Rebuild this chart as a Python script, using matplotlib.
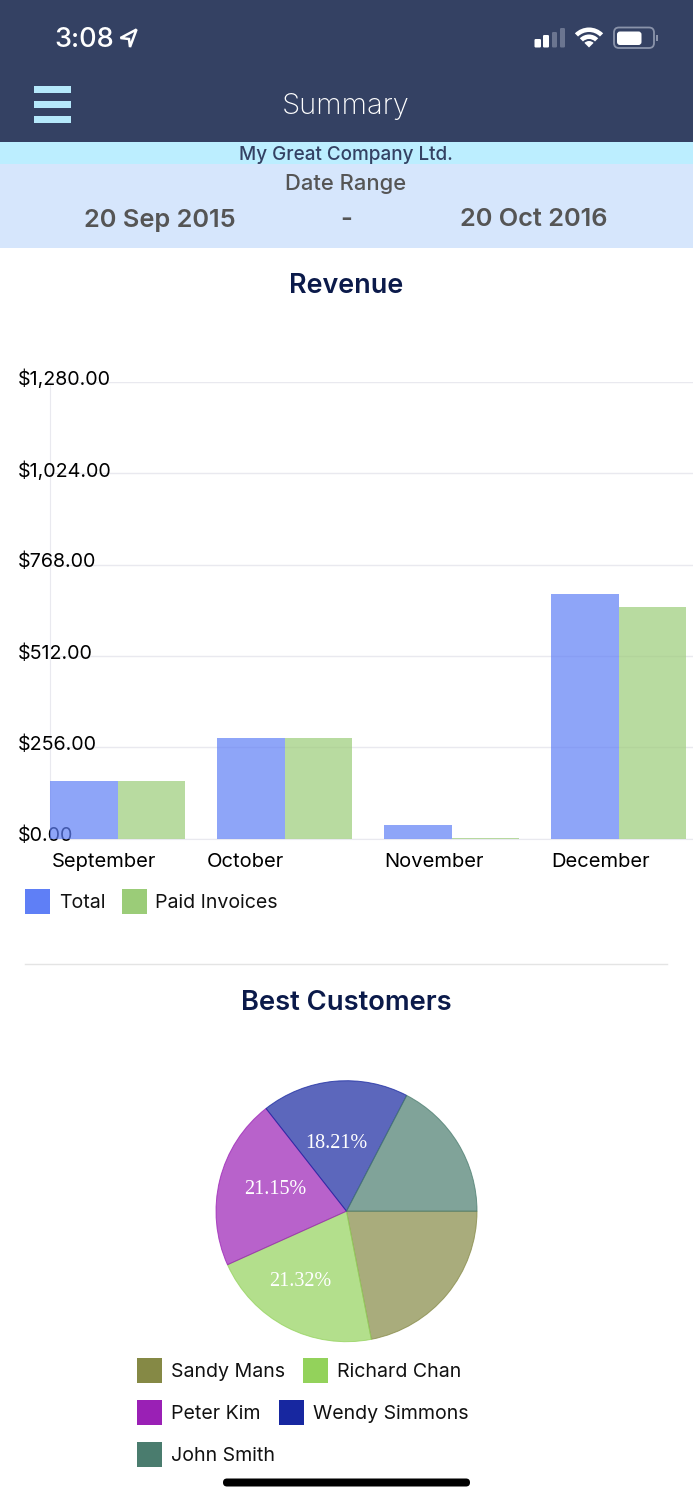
import matplotlib
matplotlib.use("Agg")
import matplotlib.pyplot as plt
from matplotlib.patches import Rectangle, FancyBboxPatch, Polygon, Wedge
from matplotlib.transforms import ScaledTranslation
from matplotlib.colors import to_rgba

plt.rcParams["font.family"] = ["Inter", "DejaVu Sans"]

W, H = 693, 1500

months = ["September", "October", "November", "December"]
total = [160, 282, 38, 686]
paid = [160, 282, 2, 649]
yticks = [0, 256, 512, 768, 1024, 1280]
ylabels = ["$0.00", "$256.00", "$512.00", "$768.00", "$1,024.00", "$1,280.00"]

customers = ["Sandy Mans", "Richard Chan", "Peter Kim", "Wendy Simmons", "John Smith"]
shares = [21.95, 21.32, 21.15, 18.21, 17.37]
pie_colors = ["#858945", "#93D25B", "#9A20B5", "#1727A0", "#4A7C6E"]
pie_labels = ["", "21.32%", "21.15%", "18.21%", ""]

BLUE = "#5F7FF6"
GREEN = "#9BCC78"
GRID = "#E9E9EF"
NAVY = "#344163"
DARK = "#0B1A4A"
GREY = "#555555"


def px_axes(x0, y0, x1, y1):
    # axes from pixel box, y counted from the top
    return fig.add_axes([x0 / W, 1 - y1 / H, (x1 - x0) / W, (y1 - y0) / H])


def shift(dx, dy):
    return ScaledTranslation(dx / 100, -dy / 100, fig.dpi_scale_trans)


fig = plt.figure(figsize=(W / 100, H / 100), dpi=100)

# bars
ax = px_axes(50, 382, 693, 838.5)
xs = list(range(len(months)))
bw = 67.5 / 167
ax.bar([x - bw / 2 for x in xs], total, bw, color=BLUE, alpha=0.7, linewidth=0)
ax.bar([x + bw / 2 for x in xs], paid, bw, color=GREEN, alpha=0.7, linewidth=0)
ax.set_xlim(-68 / 167, 575 / 167)
ax.set_ylim(0, 1280)
ax.set_axisbelow(True)
ax.set_yticks(yticks)
ax.set_yticklabels(ylabels, fontsize=14.2, color="black", ha="left")
ax.set_xticks(xs)
ax.set_xticklabels(months, fontsize=14.5, color="black", ha="left")
ax.tick_params(axis="y", length=0, pad=23)
ax.tick_params(axis="x", length=0, pad=0)
ax.grid(axis="y", color=GRID, linewidth=1)
for s in ["top", "right"]:
    ax.spines[s].set_visible(False)
for s in ["left", "bottom"]:
    ax.spines[s].set_color(GRID)
    ax.spines[s].set_zorder(0.4)
for lab in ax.get_yticklabels():
    lab.set_transform(lab.get_transform() + shift(0, -4.5))
for lab, dx in zip(ax.get_xticklabels(), [-66, -78, -68, -68]):
    lab.set_transform(lab.get_transform() + shift(dx, 14))

# pie
cx, cy, r = 346.5, 1211.2, 130.5
pax = px_axes(cx - r, cy - r, cx + r, cy + r)
wedges, _ = pax.pie(shares, colors=pie_colors, startangle=0, counterclock=False, radius=1)
for w, c in zip(wedges, pie_colors):
    w.set_facecolor(to_rgba(c, 0.7))
    w.set_edgecolor(to_rgba(c, 0.75))
    w.set_linewidth(0.7)
pax.set_xlim(-1, 1)
pax.set_ylim(-1, 1)

# everything else, in pixel coords
ov = fig.add_axes([0, 0, 1, 1], zorder=5)
ov.set_xlim(0, W)
ov.set_ylim(H, 0)
ov.axis("off")
ov.patch.set_alpha(0)


def box(x0, y0, x1, y1, c):
    ov.add_patch(Rectangle((x0, y0), x1 - x0, y1 - y0, facecolor=c, edgecolor="none"))


def label(x, y, s, size, c="black", ha="center", **kw):
    # inter sits a bit high with va=center
    ov.text(x, y + 2, s, fontsize=size, color=c, ha=ha, va="center", **kw)


# header bands
box(0, 0, W, 142, NAVY)
box(0, 142, W, 164, "#BCEEFF")
box(0, 164, W, 247.5, "#D6E6FC")

# status bar
label(54, 38, "3:08", 19.5, "white", ha="left", fontweight="medium")
ov.add_patch(Polygon([(136.5, 29.5), (120.5, 38), (129, 39), (130, 47)], closed=True,
                     facecolor="none", edgecolor="white", linewidth=1.8))
for x, x1, top, c in [(534.5, 541, 39, "white"), (543, 549, 35, "white"),
                      (552, 557, 32, "#6B7590"), (560, 565, 28, "#6B7590")]:
    ov.add_patch(FancyBboxPatch((x, top), x1 - x, 47.5 - top, boxstyle="round,pad=0,rounding_size=1.2",
                                facecolor=c, edgecolor="none"))
for rr, wd in [(20, 4.5), (13, 4.5), (6.5, 6.5)]:
    ov.add_patch(Wedge((589, 47.5), rr, 225, 315, width=wd, facecolor="white", edgecolor="none"))
ov.add_patch(FancyBboxPatch((614, 27.5), 40, 20.5, boxstyle="round,pad=0,rounding_size=5",
                            facecolor="none", edgecolor="#8A93AA", linewidth=1.3))
ov.add_patch(FancyBboxPatch((617, 31.5), 24.5, 13.5, boxstyle="round,pad=0,rounding_size=3",
                            facecolor="white", edgecolor="none"))
box(656, 35, 658, 41, "#8A93AA")

# hamburger + titles
for y in [86, 101, 116]:
    box(33.5, y, 71, y + 6.5, "#B5E8FB")
label(346, 105, "Summary", 21, "white", fontweight="light")
label(346, 153, "My Great Company Ltd.", 13.6, NAVY, fontweight="medium")
label(346, 182, "Date Range", 15.8, GREY, fontweight="medium")
label(160, 218, "20 Sep 2015", 18.3, GREY, fontweight="semibold")
label(346, 218, "-", 18.3, GREY, fontweight="semibold")
label(534, 218, "20 Oct 2016", 18.3, GREY, fontweight="semibold")
label(346.5, 284, "Revenue", 19.4, DARK, fontweight="semibold")
label(346.5, 1001, "Best Customers", 19.7, DARK, fontweight="semibold")

# bar legend
for x0, c, tx, name in [(25, BLUE, 59, "Total"), (122, GREEN, 155, "Paid Invoices")]:
    box(x0, 889, x0 + 25, 914, c)
    label(tx, 901, name, 14.1, "#111111", ha="left")

ov.plot([25, 667], [964, 964], color="#E4E4E4", linewidth=1)

# pie percent labels
for (x, y), s in zip([(0, 0), (300, 1280), (275, 1187), (336, 1141), (0, 0)], pie_labels):
    if s:
        label(x, y, s, 14.5, "white", family="Liberation Serif")

# pie legend
rows = [(137, 171, 1370), (303, 337, 1370), (137, 171, 1412), (279, 313, 1412), (137, 171, 1454)]
for (x0, tx, y), c, name in zip(rows, pie_colors, customers):
    box(x0, y - 12.5, x0 + 25, y + 12.5, c)
    label(tx, y, name, 14.1, "#111111", ha="left")

# home indicator
ov.add_patch(FancyBboxPatch((223, 1478.5), 247, 8, boxstyle="round,pad=0,rounding_size=4",
                            facecolor="black", edgecolor="none"))

fig.savefig("out.png", dpi=100)
